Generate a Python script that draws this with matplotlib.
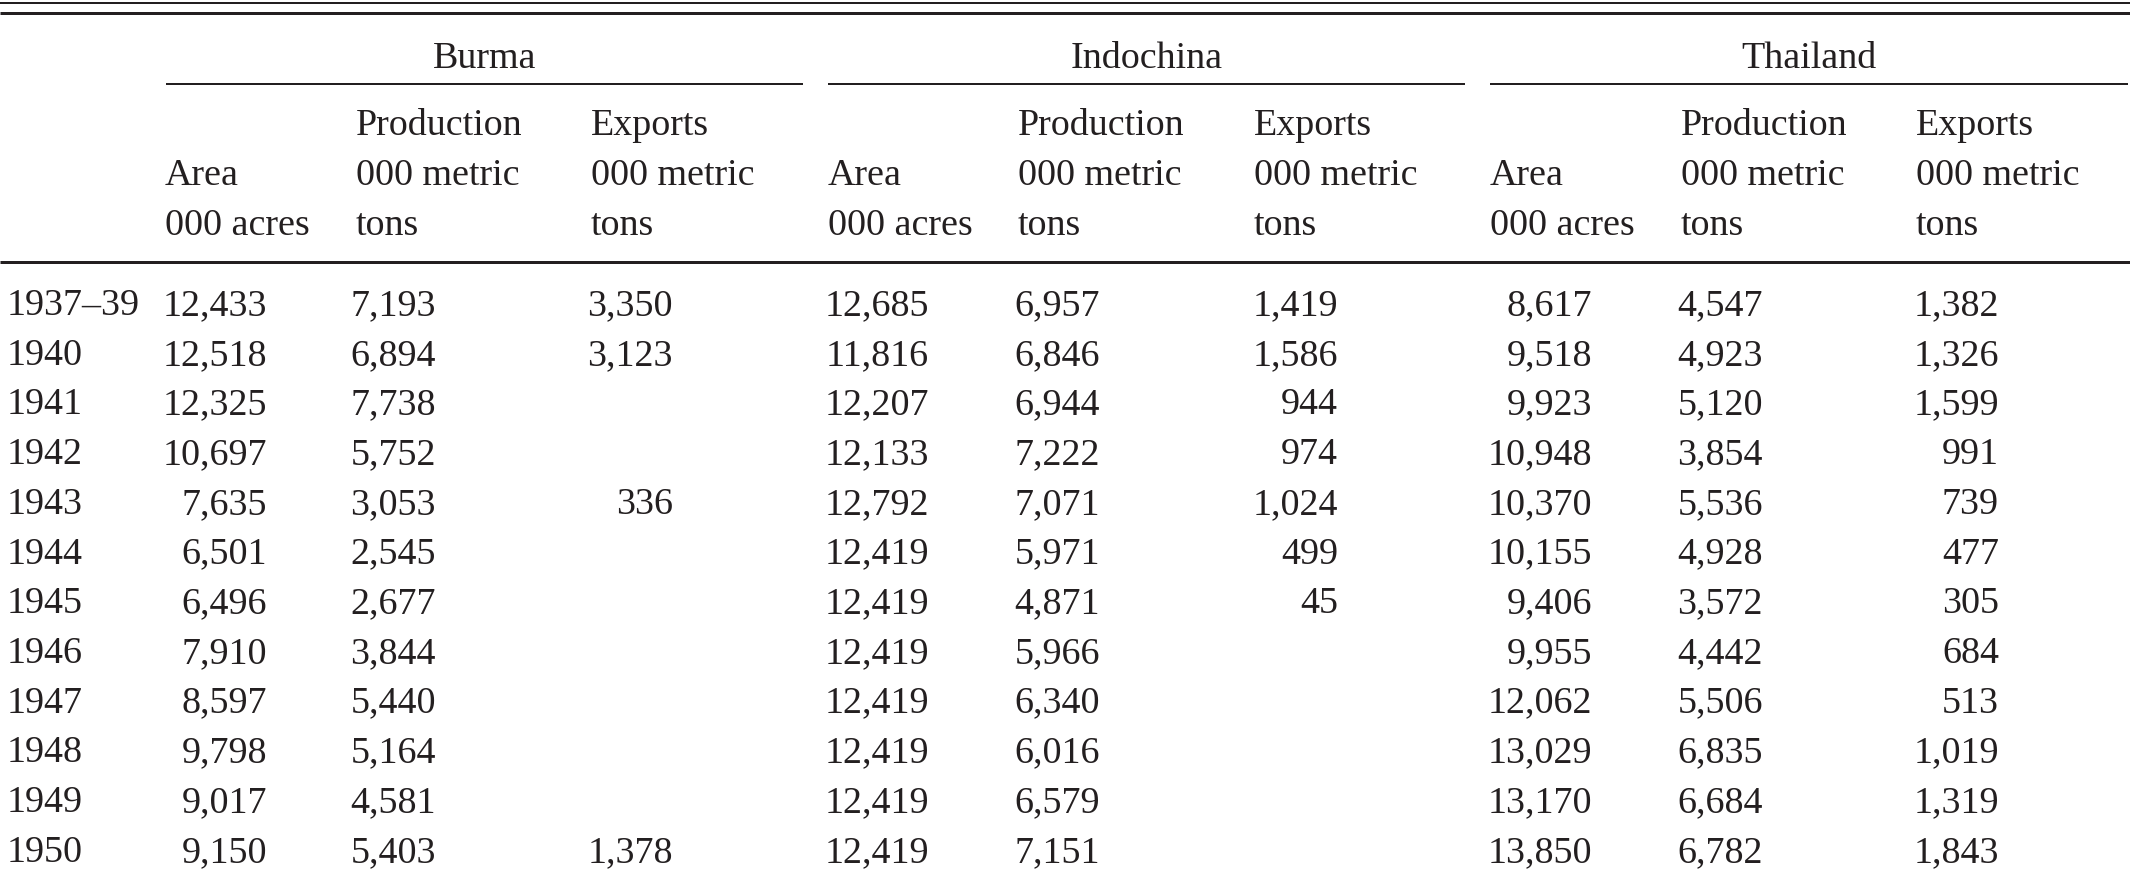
import matplotlib
matplotlib.use("Agg")
import matplotlib.pyplot as plt

# ---- data ----
years = ["1937–39", "1940", "1941", "1942", "1943", "1944", "1945",
         "1946", "1947", "1948", "1949", "1950"]
countries = ["Burma", "Indochina", "Thailand"]
col_headers = [["", "Area", "000 acres"],
               ["Production", "000 metric", "tons"],
               ["Exports", "000 metric", "tons"]]

burma_area = [12433, 12518, 12325, 10697, 7635, 6501, 6496, 7910, 8597, 9798, 9017, 9150]
burma_prod = [7193, 6894, 7738, 5752, 3053, 2545, 2677, 3844, 5440, 5164, 4581, 5403]
burma_exp = [3350, 3123, None, None, 336, None, None, None, None, None, None, 1378]

indo_area = [12685, 11816, 12207, 12133, 12792, 12419, 12419, 12419, 12419, 12419, 12419, 12419]
indo_prod = [6957, 6846, 6944, 7222, 7071, 5971, 4871, 5966, 6340, 6016, 6579, 7151]
indo_exp = [1419, 1586, 944, 974, 1024, 499, 45, None, None, None, None, None]

thai_area = [8617, 9518, 9923, 10948, 10370, 10155, 9406, 9955, 12062, 13029, 13170, 13850]
thai_prod = [4547, 4923, 5120, 3854, 5536, 4928, 3572, 4442, 5506, 6835, 6684, 6782]
thai_exp = [1382, 1326, 1599, 991, 739, 477, 305, 684, 513, 1019, 1319, 1843]

columns = [burma_area, burma_prod, burma_exp,
           indo_area, indo_prod, indo_exp,
           thai_area, thai_prod, thai_exp]

# ---- layout (pixel coordinates, y downward) ----
W, H = 2130, 880
INK = "#231f20"
FONT = "Liberation Serif"
FS = 27.4

col_left = [165, 356, 591, 828, 1018, 1254, 1490, 1681, 1916]
col_right = [267, 436, 673, 929, 1100, 1338, 1592, 1763, 1999]
group_span = [(166, 803), (828, 1465), (1490, 2128)]
row0, row_step = 315, 49.7

fig = plt.figure(figsize=(W / 100, H / 100), dpi=100)
ax = fig.add_axes([0, 0, 1, 1])
ax.set_xlim(0, W)
ax.set_ylim(H, 0)
ax.axis("off")

px = 0.72  # 1 pixel in points
ax.hlines(3, 0, W, color=INK, lw=2 * px)
ax.hlines(13.5, 0, W, color=INK, lw=3 * px)
ax.hlines(262, 0, W, color=INK, lw=3 * px)

for name, (x0, x1) in zip(countries, group_span):
    ax.text((x0 + x1) / 2, 68, name, ha="center", va="baseline",
            fontsize=FS, family=FONT, color=INK)
    ax.hlines(84, x0, x1, color=INK, lw=2 * px)

header_baselines = [135, 185, 235]
for g in range(3):
    for c in range(3):
        xl = col_left[g * 3 + c]
        for line, yb in zip(col_headers[c], header_baselines):
            if line:
                ax.text(xl, yb, line, ha="left", va="baseline",
                        fontsize=FS, family=FONT, color=INK)

for i, yr in enumerate(years):
    yb = row0 + i * row_step
    ax.text(7, yb, yr, ha="left", va="baseline", fontsize=FS, family=FONT, color=INK)
    for vals, xr in zip(columns, col_right):
        v = vals[i]
        if v is not None:
            ax.text(xr, yb, f"{v:,}", ha="right", va="baseline",
                    fontsize=FS, family=FONT, color=INK)

fig.savefig("out.png", dpi=100, facecolor="white")
